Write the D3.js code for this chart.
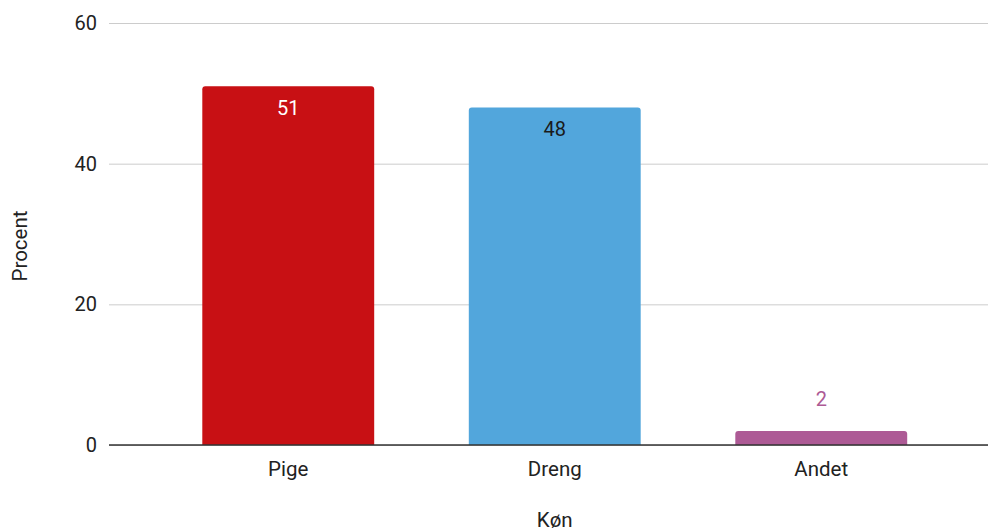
<!DOCTYPE html>
<html>
<head>
<meta charset="utf-8">
<script src="https://cdn.jsdelivr.net/npm/d3@7"></script>
<style>
  html, body { margin: 0; padding: 0; background: #fff; }
  svg { display: block; font-family: Roboto, "Noto Sans", Arial, sans-serif; }
</style>
</head>
<body>
<svg id="chart" width="988" height="532"></svg>
<script>
// Fordeling efter køn (procent)
const categories = ["Pige", "Dreng", "Andet"];
const values = [51, 48, 2];
const barColors = ["#c81014", "#52a6dc", "#ad5a95"];
const labelColors = ["#ffffff", "#1a1a1a", "#ad5a95"];
const yTicks = [0, 20, 40, 60];

const svg = d3.select("#chart");
const plotLeft = 109, plotRight = 988, plotTop = 23, plotBottom = 445;
const fs = 20;

const x = d3.scaleBand()
  .domain(categories)
  .range([155, 954.5])
  .paddingInner(0.355)
  .paddingOuter(0.1775);

const y = d3.scaleLinear()
  .domain([0, 60])
  .range([plotBottom, plotTop]);

// Gridlines and y tick labels
const yAxis = d3.axisLeft(y)
  .tickValues(yTicks)
  .tickSize(-(plotRight - plotLeft))
  .tickPadding(12);

const gy = svg.append("g")
  .attr("transform", `translate(${plotLeft},0)`)
  .call(yAxis);
gy.select(".domain").remove();
gy.selectAll(".tick line")
  .attr("stroke", "#cccccc")
  .attr("stroke-width", 1);
gy.selectAll(".tick text")
  .attr("fill", "#222")
  .attr("font-size", fs)
  .attr("font-family", "Roboto, sans-serif");

// Bars with slightly rounded top corners
const r = 3;
svg.append("g").selectAll("path")
  .data(categories)
  .join("path")
  .attr("fill", (d, i) => barColors[i])
  .attr("d", (d, i) => {
    const x0 = x(d), x1 = x(d) + x.bandwidth();
    const y0 = y(values[i]), y1 = y(0);
    return `M${x0},${y1}V${y0 + r}Q${x0},${y0} ${x0 + r},${y0}H${x1 - r}Q${x1},${y0} ${x1},${y0 + r}V${y1}Z`;
  });

// Value labels
svg.append("g").selectAll("text")
  .data(categories)
  .join("text")
  .attr("x", d => x(d) + x.bandwidth() / 2)
  .attr("y", (d, i) => values[i] > 10 ? y(values[i]) + 29 : y(values[i]) - 25)
  .attr("text-anchor", "middle")
  .attr("font-size", fs)
  .attr("fill", (d, i) => labelColors[i])
  .text((d, i) => values[i]);

// Baseline
svg.append("line")
  .attr("x1", plotLeft).attr("x2", plotRight)
  .attr("y1", y(0)).attr("y2", y(0))
  .attr("stroke", "#333").attr("stroke-width", 1.5);

// Category labels
const xAxis = d3.axisBottom(x).tickSize(0).tickPadding(16);
const gx = svg.append("g")
  .attr("transform", `translate(0,${plotBottom})`)
  .call(xAxis);
gx.select(".domain").remove();
gx.selectAll(".tick text")
  .attr("fill", "#222")
  .attr("font-size", 20.5)
  .attr("font-family", "Roboto, sans-serif");

// Axis titles
svg.append("text")
  .attr("x", x("Dreng") + x.bandwidth() / 2)
  .attr("y", 527)
  .attr("text-anchor", "middle")
  .attr("font-size", 20.5)
  .attr("fill", "#222")
  .text("Køn");

svg.append("text")
  .attr("transform", `translate(27,246) rotate(-90)`)
  .attr("text-anchor", "middle")
  .attr("font-size", 20.5)
  .attr("fill", "#222")
  .text("Procent");
</script>
</body>
</html>
